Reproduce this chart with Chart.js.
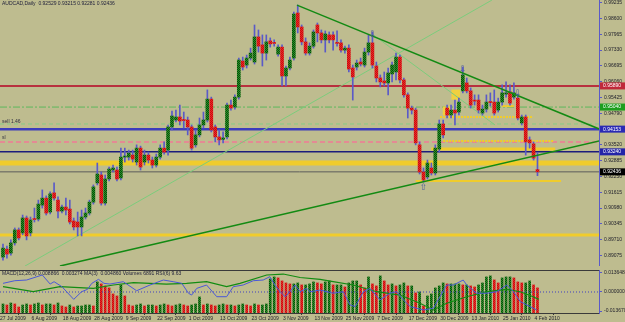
<!DOCTYPE html>
<html>
<head>
<meta charset="utf-8">
<title>AUDCAD Daily</title>
<script src="https://cdn.jsdelivr.net/npm/chart.js@4.4.1/dist/chart.umd.min.js"></script>
<style>
  html, body { margin: 0; padding: 0; background: #bebc8f; }
  #wrap { position: relative; width: 625px; height: 322px; overflow: hidden; background: #bebc8f; }
  canvas { position: absolute; left: 0; }
  #main { top: 0; }
  #sub { top: 266px; }
</style>
</head>
<body>
<div id="wrap">
  <canvas id="main" width="625" height="266"></canvas>
  <canvas id="sub" width="625" height="56"></canvas>
</div>
<script>
// AUDCAD daily candles, 27 Jul 2009 .. 4 Feb 2010
const opens = [
  .8901,.8933,.8917,.8958,.9010,.8998,.9058,.8998,.9054,.9054,
  .9110,.9138,.9082,.9159,.9130,.9086,.9102,.9094,.9046,.9042,
  .9022,.9062,.9078,.9122,.9199,.9231,.9118,.9215,.9251,.9251,
  .9219,.9303,.9303,.9311,.9283,.9339,.9283,.9311,.9291,.9271,
  .9303,.9339,.9331,.9424,.9452,.9464,.9452,.9452,.9424,.9352,
  .9392,.9432,.9452,.9536,.9424,.9384,.9374,.9384,.9512,.9504,
  .9544,.9689,.9673,.9701,.9685,.9786,.9754,.9721,.9770,.9762,
  .9717,.9745,.9629,.9661,.9701,.9882,.9826,.9766,.9721,.9749,
  .9834,.9802,.9774,.9794,.9794,.9762,.9762,.9733,.9741,.9661,
  .9665,.9685,.9673,.9725,.9762,.9669,.9621,.9609,.9601,.9637,
  .9645,.9705,.9613,.9553,.9500,.9492,.9352,.9243,.9223,.9259,
  .9239,.9335,.9436,.9500,.9472,.9492,.9484,.9569,.9601,.9569,
  .9532,.9532,.9480,.9496,.9524,.9524,.9492,.9524,.9556,.9565,
  .9544,.9540,.9440,.9464,.9372,.9356,.92529
];
const highs = [
  .8953,.8945,.8970,.9018,.9018,.9070,.9066,.9062,.9098,.9130,
  .9171,.9147,.9163,.9199,.9143,.9110,.9138,.9130,.9058,.9082,
  .9090,.9098,.9130,.9191,.9279,.9243,.9231,.9263,.9271,.9263,
  .9339,.9339,.9331,.9331,.9352,.9347,.9331,.9323,.9303,.9315,
  .9352,.9364,.9432,.9488,.9492,.9512,.9484,.9464,.9432,.9412,
  .9460,.9484,.9573,.9544,.9432,.9412,.9404,.9520,.9532,.9553,
  .9701,.9705,.9713,.9741,.9834,.9814,.9794,.9794,.9782,.9774,
  .9754,.9754,.9669,.9705,.9886,.9914,.9834,.9782,.9762,.9814,
  .9842,.9814,.9810,.9806,.9806,.9810,.9774,.9749,.9754,.9673,
  .9693,.9701,.9741,.9794,.9806,.9685,.9633,.9645,.9661,.9685,
  .9721,.9713,.9621,.9561,.9508,.9500,.9364,.9259,.9291,.9279,
  .9352,.9452,.9452,.9512,.9512,.9532,.9540,.9665,.9621,.9581,
  .9553,.9553,.9512,.9553,.9561,.9573,.9540,.9593,.9605,.9593,
  .9601,.9556,.9472,.9472,.9384,.9364,.93215
];
const lows = [
  .8889,.8897,.8909,.8949,.8970,.8990,.8970,.8986,.9042,.9046,
  .9098,.9070,.9074,.9130,.9058,.9078,.9070,.9034,.9010,.8986,
  .8986,.9054,.9070,.9114,.9191,.9110,.9110,.9207,.9243,.9207,
  .9211,.9283,.9291,.9283,.9271,.9251,.9271,.9279,.9259,.9263,
  .9295,.9315,.9311,.9412,.9444,.9432,.9420,.9392,.9331,.9343,
  .9384,.9420,.9444,.9404,.9364,.9352,.9360,.9376,.9492,.9496,
  .9536,.9653,.9661,.9693,.9677,.9725,.9669,.9693,.9745,.9749,
  .9709,.9589,.9589,.9653,.9693,.9802,.9754,.9713,.9713,.9741,
  .9766,.9762,.9725,.9762,.9733,.9749,.9725,.9721,.9645,.9532,
  .9653,.9669,.9665,.9713,.9661,.9605,.9585,.9589,.9553,.9605,
  .9613,.9601,.9544,.9460,.9476,.9352,.9235,.9203,.9215,.9231,
  .9231,.9323,.9380,.9460,.9460,.9432,.9472,.9561,.9561,.9500,
  .9512,.9480,.9472,.9484,.9508,.9472,.9484,.9512,.9544,.9512,
  .9536,.9452,.9432,.9311,.9339,.9291,.92281
];
const closes = [
  .8937,.8913,.8958,.9010,.8978,.9058,.8986,.9050,.9052,.9114,
  .9138,.9078,.9155,.9138,.9086,.9102,.9090,.9042,.9022,.9022,
  .9062,.9078,.9122,.9183,.9235,.9118,.9215,.9255,.9259,.9215,
  .9303,.9307,.9319,.9295,.9339,.9263,.9311,.9291,.9271,.9303,
  .9339,.9323,.9424,.9468,.9464,.9448,.9450,.9424,.9339,.9392,
  .9432,.9452,.9536,.9412,.9384,.9372,.9380,.9512,.9500,.9544,
  .9693,.9665,.9701,.9721,.9786,.9749,.9721,.9766,.9758,.9760,
  .9745,.9629,.9661,.9693,.9878,.9826,.9766,.9721,.9749,.9806,
  .9802,.9774,.9798,.9774,.9774,.9760,.9733,.9741,.9657,.9625,
  .9681,.9677,.9725,.9762,.9673,.9621,.9605,.9601,.9641,.9673,
  .9705,.9613,.9553,.9500,.9492,.9360,.9243,.9211,.9279,.9239,
  .9339,.9436,.9392,.9472,.9492,.9480,.9524,.9633,.9569,.9512,
  .9528,.9492,.9496,.9524,.9522,.9480,.9524,.9561,.9561,.9520,
  .9561,.9460,.9464,.9364,.9360,.9299,.92436
];
const volumes = [
  2480,2200,2750,2480,1650,2200,2480,2200,2480,2750,2200,2480,2480,2200,2750,1930,1650,2200,1650,1930,1930,2200,2200,1930,
  8530,7980,7430,6880,5230,4680,7700,4680,
  2200,1930,2200,2480,1930,2200,2200,1930,2200,2480,2200,1930,2200,2480,2200,1930,2200,2480,
  4400,
  2200,2480,2200,1930,2200,2480,2200,2200,1930,2200,2480,2200,1930,2480,2200,2200,2480,
  9350,9900,9630,8800,8250,7980,7980,8250,
  7700,7700,7980,8530,8250,7980,8530,8800,7700,7700,7700,7150,8250,8800,8800,7700,6880,9900,7980,7430,
  10180,8800,7700,7980,7430,7700,8250,7430,7430,5500,5780,1930,4680,5230,6880,7430,8250,7980,7980,7980,
  7980,7700,7700,7430,7150,7700,8250,9900,10180,9080,8250,9630,9900,9900,9630,8530,8250,8250,8800,7700,6891
];

const dateLabels = ['27 Jul 2009','6 Aug 2009','18 Aug 2009','28 Aug 2009','9 Sep 2009','22 Sep 2009',
  '1 Oct 2009','13 Oct 2009','23 Oct 2009','3 Nov 2009','13 Nov 2009','25 Nov 2009','7 Dec 2009',
  '17 Dec 2009','30 Dec 2009','13 Jan 2010','25 Jan 2010','4 Feb 2010'];
const dateIdx = [0,8,16,24,32,40,48,56,64,72,80,88,96,104,112,120,128,136];

const priceTicks = [0.99235,0.98600,0.97965,0.97330,0.96695,0.96060,0.95425,0.94790,0.94155,
  0.93520,0.92885,0.92250,0.91615,0.90980,0.90345,0.89710,0.89075];
const oscTicks = [0.013648, 0, -0.013670];

// horizontal levels
const levelNames = ['resist','dashdot','dashed','blue','pink','navy','yellow','bid','yellowLow'];
const levelPrices = [0.95890,0.95040,0.94360,0.94153,0.93640,0.93240,0.92790,0.92436,0.89900];

// short yellow segments (from bar, to bar, price)
const segFrom = [111.2,112,109,105,127];
const segTo = [134.9,140,140.5,142,130];
const segPrice = [0.9464,0.9368,0.9335,0.9207,0.9508];

// yellow highlight boxes
const boxIdx = [115.2,113];
const boxLow = [0.9535,0.9472];
const boxHigh = [0.9573,0.9505];

// trend lines: from bar, from price, to bar, to price
const trendDown = [74.8,0.9914,151.7,0.9416];
const trendUp = [14.5,0.8865,151.7,0.9368];
const fanUp = [5.6,0.8865,124.4,0.9934];
const fanDown = [93.9,0.9798,125.2,0.9432];

const arrowIdx = [94,117,131,107];
const arrowPrice = [0.9796,0.9653,0.9558,0.9179];
const arrowGlyph = ['\u21E9','\u21E9','\u21E9','\u21E7'];

const noteText = ['sell 1.46','sl'];
const notePrice = [0.9444,0.9380];

// lower window lines (bar, value)
const rsiLine = [[0,0.0062],[3,0.0081],[6,0.0086],[10,0.0122],[12,0.0057],[13,0.0074],[15,0.0038],
  [18,-0.0053],[20,0.0002],[21.5,0.0019],[22.6,0.0062],[24.3,0.0091],[25.7,0.0062],[27.2,0.0057],
  [30.6,0.0074],[34,0.0009],[37.4,0.0050],[40.8,0.0086],[43.3,0.0074],[45.5,0.0062],[47.2,-0.0009],
  [48,-0.0022],[49.3,0.0026],[51.8,0.0050],[54.4,-0.0034],[56.9,-0.0034],[58.6,0.0038],[61.1,0.0050],
  [63.7,0.0081],[66.2,0.0086],[67.9,0.0110],[69.2,0.0050],[70.5,0.0002],[71.8,-0.0034],[73,0.0002],
  [74.3,0.0050],[75.6,0.0002],[77.3,0.0026],[78.1,0.0002],[80.7,0.0014],[84,-0.0009],[86.6,0.0002],
  [88.3,-0.0093],[89.6,-0.0105],[91.7,0.0002],[93.4,0.0026],[95.9,-0.0057],[98.5,-0.0009],[100.2,0.0002],
  [101.9,-0.0057],[103.6,-0.0105],[107,-0.0129],[109.5,-0.0117],[111.2,-0.0034],[112.9,0.0050],
  [114.6,0.0050],[117.1,0.0086],[118,0.0050],[120.5,-0.0009],[123.1,-0.0009],[125.6,0.0002],
  [128.2,0.0050],[129.9,0.0002],[131.6,-0.0069],[134.1,-0.0105],[135.8,-0.0129]];
const maLine = [[0,0.0038],[7.7,0.0002],[14.5,0.0038],[23,0.0026],[28.1,0.0050],[33.2,0.0067],
  [41.6,0.0057],[46.7,0.0062],[51.8,0.0074],[56.9,0.0038],[60.3,0.0062],[67.1,0.0122],[71.3,0.0129],
  [75.6,0.0104],[80.7,0.0090],[84,0.0074],[89.1,0.0050],[95.1,0.0002],[101,-0.0022],[106.1,-0.0081],
  [109.5,-0.0129],[112.9,-0.0081],[118,-0.0034],[123.1,0.0002],[128.2,0.0019],[131.6,0.0002],
  [134.9,-0.0034],[136.3,-0.0053]];

// ---- drawing ----
const XMIN = -0.76, XMAX = 151.65;
const FONT = 'Liberation Sans';
Chart.defaults.font.family = FONT;
Chart.defaults.font.size = 5;
Chart.defaults.color = '#1e1e2a';

const levelStyle = {
  resist: {color: '#b8303e', width: 2, dash: []},
  dashdot: {color: '#5cb85c', width: 1, dash: [7, 2, 2, 2]},
  dashed: {color: '#86cc86', width: 1, dash: [4, 3]},
  blue: {color: '#3c3cbc', width: 2.5, dash: []},
  pink: {color: '#e48a94', width: 2, dash: [5, 3]},
  navy: {color: '#1c1c7c', width: 1.5, dash: []},
  yellow: {color: '#f0cc2c', width: 5, dash: []},
  bid: {color: '#5c5c5c', width: 1, dash: []},
  yellowLow: {color: '#f0cc2c', width: 3, dash: []}
};
const levelBox = {resist: '#c0283a', dashdot: '#1e9e1e', blue: '#2a2ab4', navy: '#2424a8', bid: '#000000'};

const mainCtx = document.getElementById('main').getContext('2d');

function pattern(c1, c2) {
  const p = document.createElement('canvas');
  p.width = 2; p.height = 2;
  const g = p.getContext('2d');
  g.fillStyle = c1; g.fillRect(0, 0, 2, 2);
  g.fillStyle = c2; g.fillRect(0, 0, 1, 1); g.fillRect(1, 1, 1, 1);
  return mainCtx.createPattern(p, 'repeat');
}
const upFill = pattern('#249a24', '#0c420c');
const downFill = pattern('#f02222', '#c01212');

function seg(x1, y1, x2, y2, color, width, dash, order) {
  return {type: 'line', data: [{x: x1, y: y1}, {x: x2, y: y2}], borderColor: color, borderWidth: width,
    borderDash: dash || [], pointRadius: 0, fill: false, order: order};
}

const mainSets = [];
levelNames.forEach((n, k) => {
  const s = levelStyle[n];
  mainSets.push(seg(XMIN, levelPrices[k], XMAX, levelPrices[k], s.color, s.width, s.dash, 10));
});
segPrice.forEach((p, k) => mainSets.push(seg(segFrom[k], p, segTo[k], p, '#f0cc2c', k == 2 ? 3 : 2, k == 0 || k == 1 ? [2, 1] : [], 9)));
mainSets.push({type: 'bar', data: boxIdx.map((x, k) => ({x: x, y: [boxLow[k], boxHigh[k]]})),
  backgroundColor: '#f0d040', barThickness: 8, grouped: false, order: 8});
mainSets.push(seg(fanUp[0], fanUp[1], fanUp[2], fanUp[3], '#7ccc7c', 1, [], 7));
mainSets.push(seg(fanDown[0], fanDown[1], fanDown[2], fanDown[3], '#7ccc7c', 1, [], 7));
mainSets.push({type: 'bar', data: lows.map((l, i) => ({x: i, y: [l, highs[i]]})),
  backgroundColor: '#5a5ac8', barThickness: 1, grouped: false, order: 3});
mainSets.push({type: 'bar', data: opens.map((o, i) => ({x: i, y: [o, closes[i]]})),
  backgroundColor: closes.map((c, i) => c >= opens[i] ? upFill : downFill),
  barThickness: 3, minBarLength: 1, grouped: false, order: 2});
mainSets.push(seg(trendDown[0], trendDown[1], trendDown[2], trendDown[3], '#138a13', 1.5, [], 1));
mainSets.push(seg(trendUp[0], trendUp[1], trendUp[2], trendUp[3], '#138a13', 1.5, [], 1));

const mainOverlay = {
  id: 'mainOverlay',
  afterDatasetsDraw(chart) {
    const {ctx, scales: {x, y}} = chart;
    ctx.save();
    ctx.font = '9px "DejaVu Sans"';
    ctx.fillStyle = '#4c5c9c';
    ctx.textAlign = 'center';
    ctx.textBaseline = 'middle';
    arrowIdx.forEach((i, k) => ctx.fillText(arrowGlyph[k], x.getPixelForValue(i), y.getPixelForValue(arrowPrice[k])));
    ctx.font = '5px "' + FONT + '"';
    ctx.fillStyle = '#303040';
    ctx.textAlign = 'left';
    noteText.forEach((t, k) => ctx.fillText(t, 2, y.getPixelForValue(notePrice[k])));
    ctx.restore();
  },
  afterDraw(chart) {
    const {ctx, scales: {y}} = chart;
    ctx.save();
    ctx.font = '5px "' + FONT + '"';
    ctx.textBaseline = 'middle';
    ctx.textAlign = 'left';
    levelNames.forEach((n, k) => {
      if (!levelBox[n]) return;
      const py = y.getPixelForValue(levelPrices[k]);
      ctx.fillStyle = levelBox[n];
      ctx.fillRect(600, py - 3.5, 25, 7);
      ctx.fillStyle = '#ffffff';
      ctx.fillText(levelPrices[k].toFixed(5), 603, py);
    });
    ctx.fillStyle = '#1e1e3a';
    ctx.fillText('AUDCAD,Daily  ' + [opens, highs, lows, closes].map(a => a[a.length - 1].toFixed(5)).join(' '), 2, 3.5);
    ctx.restore();
  }
};

new Chart(mainCtx, {
  type: 'bar',
  data: {datasets: mainSets},
  options: {
    responsive: false, animation: false, events: [],
    layout: {padding: 0, autoPadding: false},
    plugins: {legend: {display: false}, tooltip: {enabled: false}},
    scales: {
      x: {type: 'linear', min: XMIN, max: XMAX, offset: false, display: false},
      y: {
        position: 'right', min: 0.88651, max: 0.99344,
        afterBuildTicks: s => { s.ticks = priceTicks.map(v => ({value: v})); },
        afterFit: s => { s.width = 26; s.paddingTop = 0; s.paddingBottom = 0; },
        ticks: {callback: v => v.toFixed(5), padding: 2, font: {size: 5}},
        grid: {drawOnChartArea: false, drawTicks: true, tickLength: 3, color: '#5a5ac8'},
        border: {display: true, color: '#5a5ac8'}
      }
    }
  },
  plugins: [mainOverlay]
});

// lower window: volumes + oscillator lines
const subSets = [
  {type: 'bar', yAxisID: 'yv', data: volumes.map((v, i) => ({x: i, y: v})),
    backgroundColor: volumes.map((v, i) => i > 0 && v < volumes[i - 1] ? downFill : upFill),
    barThickness: 2, grouped: false, order: 5},
  {type: 'line', data: [{x: XMIN, y: 0}, {x: XMAX, y: 0}], borderColor: '#4040c0', borderWidth: 1,
    borderDash: [1, 2], pointRadius: 0, order: 4},
  {type: 'line', data: maLine.map(p => ({x: p[0], y: p[1]})), borderColor: '#128c12', borderWidth: 1.2,
    pointRadius: 0, order: 2},
  {type: 'line', data: rsiLine.map(p => ({x: p[0], y: p[1]})), borderColor: '#4a58d8', borderWidth: 1,
    pointRadius: 0, order: 1}
];

const subOverlay = {
  id: 'subOverlay',
  afterDraw(chart) {
    const {ctx, chartArea} = chart;
    ctx.save();
    ctx.strokeStyle = '#3a3a3a';
    ctx.lineWidth = 1;
    ctx.beginPath();
    ctx.moveTo(0, chartArea.top + 0.5);
    ctx.lineTo(chartArea.right, chartArea.top + 0.5);
    ctx.stroke();
    ctx.font = '5px "' + FONT + '"';
    ctx.fillStyle = '#1e1e3a';
    ctx.textBaseline = 'middle';
    ctx.fillText('MACD(12,26,9) 0.008866  0.003274 MA(3)  0.004860 Volumes 6891 RSI(6) 9.63', 2, chartArea.top + 3.5);
    ctx.restore();
  }
};

new Chart(document.getElementById('sub').getContext('2d'), {
  type: 'bar',
  data: {datasets: subSets},
  options: {
    responsive: false, animation: false, events: [],
    layout: {padding: {top: 4, left: 0, right: 0, bottom: 0}, autoPadding: false},
    plugins: {legend: {display: false}, tooltip: {enabled: false}},
    scales: {
      x: {
        type: 'linear', min: XMIN, max: XMAX, offset: false, position: 'bottom',
        afterBuildTicks: s => { s.ticks = dateIdx.map(v => ({value: v})); },
        afterFit: s => { s.height = 9; s.paddingLeft = 0; s.paddingRight = 0; },
        ticks: {callback: v => { const k = dateIdx.indexOf(v); return k >= 0 ? dateLabels[k] : ''; },
          autoSkip: false, maxRotation: 0, align: 'start', labelOffset: -3, padding: 1, font: {size: 5}},
        grid: {drawOnChartArea: false, drawTicks: true, tickLength: 2, color: '#3a3a3a'},
        border: {display: true, color: '#3a3a3a'}
      },
      y: {
        position: 'right', min: -0.0151, max: 0.0158,
        afterBuildTicks: s => { s.ticks = oscTicks.map(v => ({value: v})); },
        afterFit: s => { s.width = 26; s.paddingTop = 0; s.paddingBottom = 0; },
        ticks: {callback: v => v.toFixed(6), padding: 2, font: {size: 5}},
        grid: {drawOnChartArea: false, drawTicks: true, tickLength: 3, color: '#5a5ac8'},
        border: {display: true, color: '#5a5ac8'}
      },
      yv: {display: false, min: 0, max: 11800}
    }
  },
  plugins: [subOverlay]
});
</script>
</body>
</html>
